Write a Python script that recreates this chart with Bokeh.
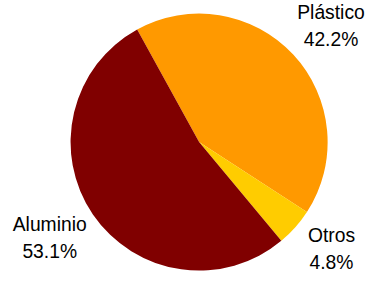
import math
from bokeh.plotting import figure
from bokeh.models import Range1d, ColumnDataSource
from bokeh.core.properties import value
from bokeh.embed import file_html
from bokeh.resources import INLINE

# ---- data ----
categories = ["Plástico", "Otros", "Aluminio"]
shares = [42.2, 4.8, 53.1]
pct_labels = ["42.2%", "4.8%", "53.1%"]
colors = ["#FF9900", "#FFCC00", "#800000"]

# ---- layout (figure fits the window: 382-16 x 293-16) ----
W, H = 366, 277
scale = 0.965          # slight shrink so all labels fit inside the figure
y_shift = 6.0          # px moved up
cx, cy, R = 205.8, -152.9, 133.2
start_deg = 118.8
# label anchor (midpoint between the two text baselines)
label_x = [342.5, 343.0, 51.0]
label_y = [-40.0, -270.5, -259.0]
line_gap = 14
text_lift = 7          # compensates the renderer's baseline offset
font_px = 20 * scale

total = sum(shares)
starts, ends = [], []
a = math.radians(start_deg)
for s in shares:
    starts.append(a)
    a -= s / total * 2 * math.pi
    ends.append(a)

src = ColumnDataSource(dict(start=starts, end=ends, color=colors))

p = figure(width=W, height=H, output_backend="svg", toolbar_location=None,
           x_range=Range1d(0, W / scale),
           y_range=Range1d(-(H + y_shift) / scale, -y_shift / scale),
           min_border=0, outline_line_color=None)
p.axis.visible = False
p.grid.visible = False
p.background_fill_color = "white"

p.wedge(x=cx, y=cy, radius=R, start_angle="start", end_angle="end",
        direction="clock", fill_color="color", line_color=None, source=src)

tsrc = ColumnDataSource(dict(
    x=label_x,
    y1=[y + line_gap + text_lift for y in label_y],
    y2=[y - line_gap + text_lift for y in label_y],
    name=categories, pct=pct_labels))

for ycol, tcol in (("y1", "name"), ("y2", "pct")):
    p.text(x="x", y=ycol, text=tcol, source=tsrc,
           text_font=value("Liberation Sans"), text_font_size=f"{font_px:.1f}px",
           text_color="#000000", text_align="center",
           text_baseline="alphabetic")

open("out.html", "w").write(file_html(p, INLINE))
